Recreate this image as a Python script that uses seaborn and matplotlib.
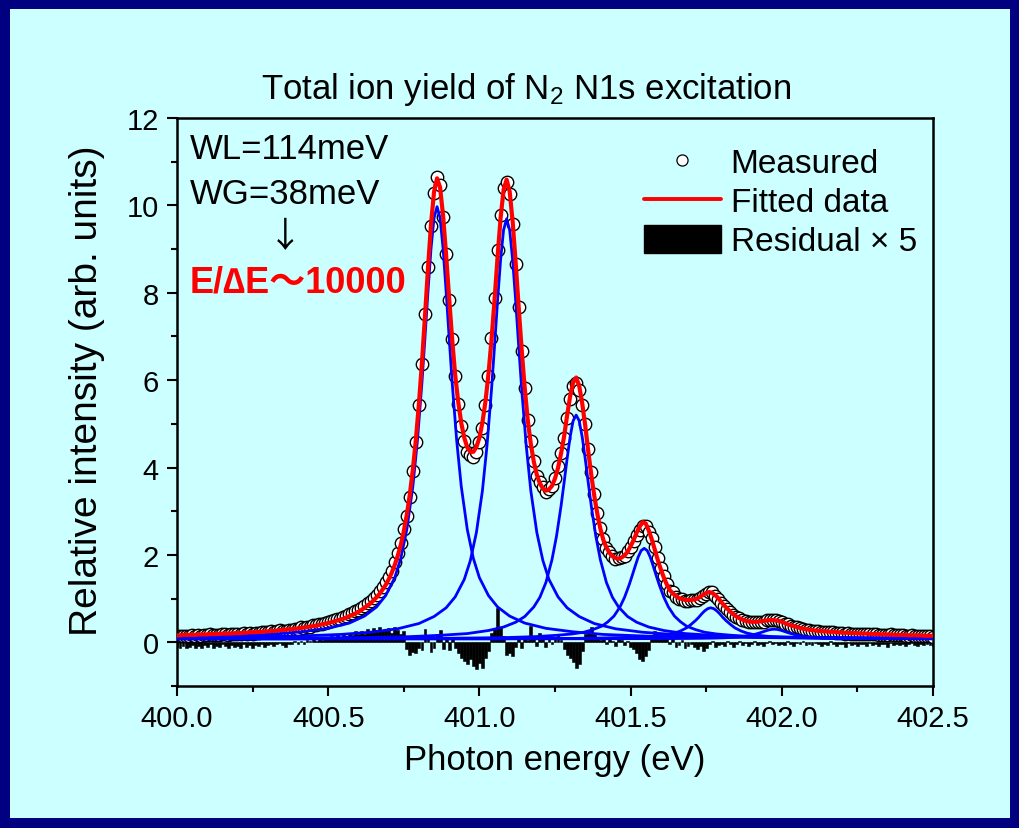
import numpy as np
import matplotlib
matplotlib.use('Agg')
import matplotlib.pyplot as plt
from matplotlib.lines import Line2D
from matplotlib.patches import Patch, Rectangle
from matplotlib.ticker import MultipleLocator, FormatStrFormatter
import seaborn as sns

sns.set_style('ticks')
plt.rcParams['font.family'] = ['Liberation Sans', 'Noto Sans CJK JP', 'DejaVu Sans']
plt.rcParams['mathtext.fontset'] = 'custom'
plt.rcParams['mathtext.rm'] = 'Liberation Sans'
plt.rcParams['mathtext.it'] = 'Liberation Sans:italic'
plt.rcParams['mathtext.bf'] = 'Liberation Sans:bold'
for k in ['text.color', 'axes.labelcolor', 'xtick.color', 'ytick.color', 'axes.edgecolor']:
    plt.rcParams[k] = 'black'

# photon energy grid, 10 meV steps
energy = np.round(np.linspace(400.0, 402.5, 251), 2)

measured = [
    .14, .14, .15, .14, .15, .16, .15, .16, .15, .17,
    .16, .18, .17, .17, .17, .19, .18, .17, .19, .19,
    .19, .19, .21, .20, .22, .20, .22, .22, .23, .23,
    .24, .25, .24, .26, .28, .27, .27, .29, .29, .31,
    .31, .34, .33, .36, .36, .39, .39, .42, .42, .45,
    .46, .49, .50, .54, .54, .58, .60, .64, .66, .71,
    .74, .79, .83, .90, .94, 1.02, 1.09, 1.18, 1.26, 1.37,
    1.50, 1.63, 1.84, 2.04, 2.27, 2.59, 2.89, 3.33, 3.92, 4.59,
    5.44, 6.36, 7.52, 8.59, 9.53, 10.29, 10.66, 10.47, 9.73, 8.88,
    7.83, 6.95, 6.09, 5.45, 4.95, 4.60, 4.36, 4.28, 4.25, 4.35,
    4.58, 4.91, 5.44, 6.10, 6.96, 7.89, 8.97, 9.78, 10.39, 10.53,
    10.27, 9.57, 8.66, 7.68, 6.66, 5.83, 5.09, 4.61, 4.15, 3.81,
    3.68, 3.55, 3.45, 3.52, 3.57, 3.77, 4.03, 4.33, 4.68, 5.13,
    5.56, 5.86, 5.94, 5.77, 5.43, 5.00, 4.43, 3.90, 3.39, 2.96,
    2.61, 2.36, 2.16, 2.07, 1.98, 1.91, 1.93, 1.95, 1.98, 2.08,
    2.18, 2.31, 2.46, 2.57, 2.66, 2.66, 2.52, 2.38, 2.17, 1.92,
    1.71, 1.51, 1.34, 1.18, 1.14, 1.04, 1.00, 1.00, .95, .95,
    .96, .96, .97, 1.02, 1.05, 1.11, 1.14, 1.14, 1.06, 1.00,
    .91, .82, .77, .69, .62, .58, .56, .51, .49, .46,
    .46, .47, .46, .47, .47, .50, .52, .50, .50, .48,
    .46, .43, .41, .38, .35, .35, .32, .31, .29, .28,
    .27, .27, .25, .24, .24, .24, .24, .23, .21, .22,
    .21, .20, .22, .20, .20, .19, .19, .19, .18, .19,
    .18, .18, .17, .17, .17, .16, .18, .16, .16, .16,
    .16, .15, .15, .16, .15, .14, .15, .14, .14, .14,
    .13]

fitted = [
    .16, .16, .17, .17, .17, .17, .17, .18, .18, .18,
    .18, .19, .19, .19, .19, .20, .20, .20, .20, .21,
    .21, .21, .22, .22, .23, .23, .23, .24, .24, .25,
    .25, .26, .26, .27, .28, .28, .29, .30, .30, .31,
    .32, .33, .34, .35, .36, .37, .38, .40, .41, .43,
    .44, .46, .48, .50, .52, .54, .57, .60, .63, .66,
    .70, .74, .79, .84, .89, .96, 1.03, 1.11, 1.21, 1.31,
    1.44, 1.59, 1.77, 1.98, 2.23, 2.54, 2.92, 3.39, 3.96, 4.64,
    5.46, 6.40, 7.46, 8.56, 9.57, 10.31, 10.62, 10.41, 9.76, 8.86,
    7.87, 6.93, 6.11, 5.50, 5.02, 4.68, 4.46, 4.36, 4.36, 4.47,
    4.68, 5.03, 5.51, 6.14, 6.92, 7.83, 8.81, 9.71, 10.36, 10.59,
    10.32, 9.63, 8.68, 7.66, 6.68, 5.81, 5.08, 4.54, 4.13, 3.83,
    3.64, 3.52, 3.47, 3.50, 3.58, 3.75, 3.99, 4.32, 4.71, 5.19,
    5.63, 5.95, 6.06, 5.87, 5.47, 4.96, 4.37, 3.83, 3.35, 2.94,
    2.60, 2.34, 2.17, 2.05, 1.97, 1.93, 1.91, 1.94, 1.99, 2.07,
    2.20, 2.34, 2.51, 2.65, 2.75, 2.72, 2.56, 2.36, 2.12, 1.88,
    1.67, 1.48, 1.32, 1.19, 1.12, 1.06, 1.01, .99, .97, .97,
    .97, .98, 1.00, 1.04, 1.09, 1.13, 1.15, 1.13, 1.08, 1.01,
    .92, .84, .77, .70, .64, .59, .55, .52, .49, .48,
    .47, .47, .47, .48, .49, .50, .51, .51, .50, .49,
    .47, .44, .41, .39, .37, .35, .33, .31, .30, .29,
    .28, .27, .26, .26, .25, .25, .24, .24, .23, .23,
    .22, .22, .22, .21, .21, .21, .20, .20, .20, .19,
    .19, .19, .19, .18, .18, .18, .18, .17, .17, .17,
    .17, .17, .16, .16, .16, .16, .16, .15, .15, .15,
    .15]

# residual already multiplied by 5, as plotted
residual_x5 = [
    -.10, -.12, -.08, -.14, -.10, -.06, -.12, -.09, -.13, -.07,
    -.10, -.05, -.12, -.08, -.11, -.04, -.09, -.13, -.06, -.10,
    -.08, -.12, -.05, -.10, -.07, -.14, -.06, -.09, -.04, -.11,
    -.07, -.03, -.09, -.05, -.02, -.06, -.10, -.03, -.04, .02,
    -.03, .03, -.05, .05, .02, .08, .04, .10, .06, .12,
    .08, .14, .10, .18, .12, .20, .15, .22, .17, .25,
    .20, .27, .18, .30, .24, .32, .28, .34, .26, .30,
    .32, .22, .35, .28, .18, .25, -.15, -.28, -.22, -.25,
    -.12, -.18, .30, .15, -.22, -.12, .20, .28, -.15, .10,
    -.18, .08, -.12, -.25, -.35, -.42, -.50, -.38, -.55, -.60,
    -.48, -.58, -.35, -.20, .22, .30, .78, .35, .15, -.30,
    -.25, -.32, -.10, .08, -.12, .10, .05, .37, .12, -.08,
    .22, .15, -.10, .08, -.05, .12, .18, .06, -.15, -.28,
    -.35, -.45, -.58, -.50, -.20, .20, .28, .34, .18, .10,
    .06, .12, -.05, .08, .04, -.08, .10, .05, -.06, .03,
    -.10, -.15, -.25, -.38, -.43, -.32, -.18, .12, .26, .20,
    .22, .15, .10, -.05, .08, -.10, -.06, .05, -.12, -.08,
    -.05, -.10, -.15, -.08, -.20, -.12, -.05, .04, -.10, -.06,
    -.03, -.08, .02, -.05, -.10, -.04, .03, -.06, -.02, -.08,
    -.04, .02, -.06, -.03, -.08, -.02, .03, -.05, -.02, -.07,
    -.03, -.06, .02, -.04, -.08, -.02, -.05, .02, -.06, -.03,
    -.07, -.02, -.05, -.09, -.03, -.06, .02, -.04, -.08, -.03,
    -.05, -.10, -.02, -.06, -.04, -.08, -.03, -.05, -.09, -.02,
    -.06, -.04, -.08, -.03, -.05, -.10, -.02, -.06, -.04, -.07,
    -.03, -.08, -.05, -.02, -.06, -.09, -.04, -.07, -.03, -.06,
    -.08]

# fitted Voigt components: peak positions and values at offsets from each peak
peak_centers = [400.86, 401.09, 401.32, 401.545, 401.765, 401.975]
offsets = [-2.0, -1.6, -1.2, -0.9, -0.7, -0.55, -0.45, -0.36, -0.29, -0.24, -0.2,
           -0.17, -0.14, -0.12, -0.1, -0.08, -0.065, -0.05, -0.04, -0.03, -0.02, -0.01,
           0.0, 0.01, 0.02, 0.03, 0.04, 0.05, 0.065, 0.08, 0.1, 0.12, 0.14, 0.17,
           0.2, 0.24, 0.29, 0.36, 0.45, 0.55, 0.7, 0.9, 1.2, 1.6, 2.0]
comp1 = [.09, .09, .10, .12, .14, .18, .24, .32, .44, .60, .81, 1.07, 1.48, 1.92, 2.58,
         3.57, 4.61, 5.94, 6.97, 8.03, 9.01, 9.71, 9.97, 9.71, 9.01, 8.03, 6.97, 5.94,
         4.61, 3.57, 2.58, 1.92, 1.48, 1.07, .81, .60, .44, .32, .24, .18, .14, .12, .10, .09, .09]
comp2 = [.09, .09, .10, .12, .14, .18, .23, .31, .43, .59, .79, 1.04, 1.44, 1.87, 2.51,
         3.47, 4.49, 5.78, 6.77, 7.81, 8.75, 9.44, 9.69, 9.44, 8.75, 7.81, 6.77, 5.78,
         4.49, 3.47, 2.51, 1.87, 1.44, 1.04, .79, .59, .43, .31, .23, .18, .14, .12, .10, .09, .09]
comp3 = [.08, .09, .09, .10, .11, .13, .16, .20, .27, .35, .46, .59, .81, 1.03, 1.37,
         1.89, 2.43, 3.12, 3.65, 4.20, 4.70, 5.07, 5.20, 5.07, 4.70, 4.20, 3.65, 3.12,
         2.43, 1.89, 1.37, 1.03, .81, .59, .46, .35, .27, .20, .16, .13, .11, .10, .09, .09, .08]
comp4 = [.08, .08, .08, .09, .09, .10, .11, .13, .16, .19, .23, .29, .37, .47, .60,
         .81, 1.03, 1.31, 1.52, 1.74, 1.95, 2.10, 2.15, 2.10, 1.95, 1.74, 1.52, 1.31,
         1.03, .81, .60, .47, .37, .29, .23, .19, .16, .13, .11, .10, .09, .09, .08, .08, .08]
comp5 = [.08, .08, .08, .08, .08, .09, .09, .10, .11, .12, .13, .15, .18, .21, .26,
         .33, .41, .50, .57, .65, .72, .77, .79, .77, .72, .65, .57, .50,
         .41, .33, .26, .21, .18, .15, .13, .12, .11, .10, .09, .09, .08, .08, .08, .08, .08]
comp6 = [.080, .080, .080, .081, .081, .082, .084, .085, .088, .092, .096, .102, .111, .121, .136,
         .158, .181, .211, .233, .257, .279, .294, .300, .294, .279, .257, .233, .211,
         .181, .158, .136, .121, .111, .102, .096, .092, .088, .085, .084, .082, .081, .081, .080, .080, .080]
components = [comp1, comp2, comp3, comp4, comp5, comp6]

W, H = 1020, 829
fig = plt.figure(figsize=(W / 100, H / 100), dpi=100, facecolor='#000080')
fig.patches.append(Rectangle((10 / W, 10 / H), 1000 / W, 809 / H, transform=fig.transFigure,
                             facecolor='#CCFFFF', edgecolor='none', zorder=-5))
ax = fig.add_axes([177 / W, 142 / H, 756 / W, 568 / H])
ax.set_facecolor('#CCFFFF')

ax.bar(energy, residual_x5, width=0.0095, color='black', edgecolor='black',
       linewidth=0.4, zorder=1)
sns.scatterplot(x=energy, y=measured, ax=ax, s=80, color='white', edgecolor='black',
                linewidth=1.0, zorder=2, legend=False)
for c, vals in zip(peak_centers, components):
    sns.lineplot(x=np.round(c + np.array(offsets), 3), y=vals, ax=ax, color='#0000FF',
                 lw=2.0, zorder=3, estimator=None, sort=False, legend=False)
sns.lineplot(x=energy, y=fitted, ax=ax, color='#FF0000', lw=3.0, zorder=4,
             estimator=None, legend=False)

ax.set_xlim(400, 402.5)
ax.set_ylim(-1, 12)
ax.xaxis.set_major_locator(MultipleLocator(0.5))
ax.xaxis.set_minor_locator(MultipleLocator(0.25))
ax.xaxis.set_major_formatter(FormatStrFormatter('%.1f'))
ax.yaxis.set_major_locator(MultipleLocator(2))
ax.yaxis.set_minor_locator(MultipleLocator(1))
ax.tick_params(which='major', direction='out', length=7, width=1.5, labelsize=21, pad=6,
               top=False, right=False, colors='black')
ax.tick_params(which='minor', direction='out', length=4, width=1.5, top=False, right=False)
for sp in ax.spines.values():
    sp.set_visible(True)
    sp.set_linewidth(1.8)
    sp.set_color('black')

ax.set_xlabel('Photon energy (eV)', fontsize=25, labelpad=8)
ax.set_ylabel('Relative intensity (arb. units)', fontsize=28)
ax.yaxis.set_label_coords(-0.095, 0.521)

fig.text(526 / W, 1 - 89 / H, 'Total ion yield of N$_2$ N1s excitation',
         ha='center', va='center', fontsize=25)

ax.text(0.017, 0.946, 'WL=114meV', transform=ax.transAxes, fontsize=25, va='center')
ax.text(0.017, 0.867, 'WG=38meV', transform=ax.transAxes, fontsize=25, va='center')
ax.text(0.143, 0.792, '↓', transform=ax.transAxes, fontsize=25, va='center', ha='center',
        family=['Noto Sans CJK JP', 'DejaVu Sans'])
ax.text(0.017, 0.711, 'E/∆E〜10000', transform=ax.transAxes, fontsize=26, va='center',
        color='#FF0000', fontweight='bold')

handles = [Line2D([], [], marker='o', ls='none', mfc='white', mec='black', mew=0.9, ms=8),
           Line2D([], [], color='#FF0000', lw=2.8),
           Patch(facecolor='black', edgecolor='black')]
labels = ['Measured', 'Fitted data', 'Residual × 5']
ax.legend(handles, labels, loc='upper left', bbox_to_anchor=(644 / W, 1 - 148 / H),
          bbox_transform=fig.transFigure, frameon=False, fontsize=24, handlelength=2.3,
          handletextpad=0.3, labelspacing=0.2, borderpad=0, borderaxespad=0,
          handleheight=0.9)

fig.savefig('out.png', dpi=100, facecolor=fig.get_facecolor())
